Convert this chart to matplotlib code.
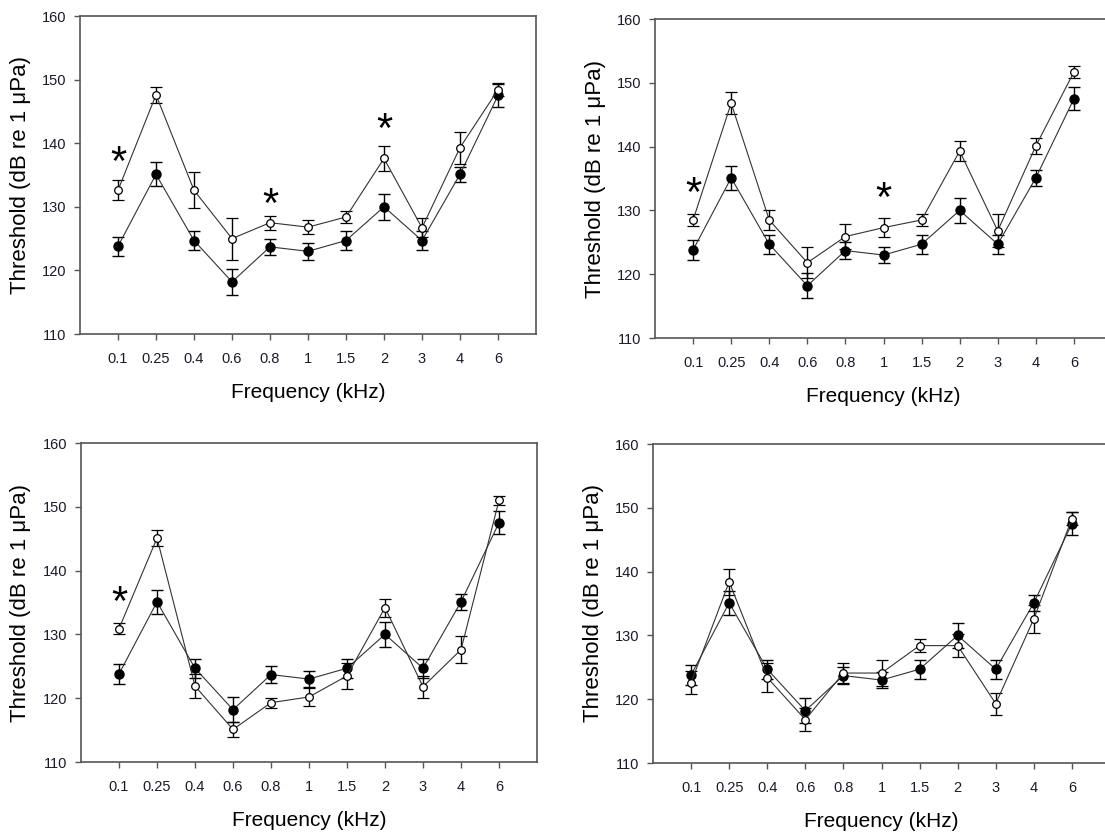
import matplotlib
matplotlib.use('Agg')
import matplotlib.pyplot as plt
import matplotlib.transforms as mtransforms
import numpy as np

plt.rcParams['font.family'] = ['Liberation Sans', 'DejaVu Sans']

# frequency categories (kHz)
freqs = ['0.1', '0.25', '0.4', '0.6', '0.8', '1', '1.5', '2', '3', '4', '6']

# control group (filled symbols), same in every panel
ctrl = [123.8, 135.1, 124.7, 118.2, 123.7, 123.0, 124.7, 130.0, 124.7, 135.1, 147.5]
ctrl_err = [1.5, 1.9, 1.5, 2.0, 1.3, 1.3, 1.5, 2.0, 1.5, 1.2, 1.8]

# treatment groups (open symbols), one per panel
open_a = [132.6, 147.6, 132.6, 125.0, 127.5, 126.8, 128.4, 137.6, 126.7, 139.3, 148.4]
open_a_err = [1.6, 1.3, 2.8, 3.3, 1.1, 1.1, 1.0, 2.0, 1.5, 2.5, 1.0]
open_b = [128.5, 146.8, 128.5, 121.8, 125.9, 127.3, 128.5, 139.3, 126.8, 140.1, 151.7]
open_b_err = [1.0, 1.7, 1.6, 2.4, 2.0, 1.5, 1.0, 1.5, 2.6, 1.3, 1.0]
open_c = [130.9, 145.1, 121.9, 115.1, 119.3, 120.2, 123.5, 134.2, 121.8, 127.6, 151.0]
open_c_err = [0.9, 1.3, 1.9, 1.2, 0.8, 1.4, 2.0, 1.4, 1.7, 2.1, 0.7]
open_d = [122.6, 138.4, 123.4, 116.8, 124.1, 124.1, 128.4, 128.4, 119.3, 132.6, 148.3]
open_d_err = [1.8, 2.0, 2.2, 1.8, 1.5, 2.0, 1.0, 1.8, 1.7, 2.2, 1.0]

# significance stars: (frequency index, y of star centre)
stars_a = [(0, 138.7), (4, 132.0), (7, 143.9)]
stars_b = [(0, 134.4), (5, 133.5)]
stars_c = [(0, 136.7)]
stars_d = []

panels = [
    (open_a, open_a_err, stars_a, [80, 16, 536, 334]),
    (open_b, open_b_err, stars_b, [655, 19, 1112, 338]),
    (open_c, open_c_err, stars_c, [81, 443, 537, 762]),
    (open_d, open_d_err, stars_d, [653, 444, 1110, 763]),
]

W, H = 1105, 832
fig = plt.figure(figsize=(W / 100, H / 100), dpi=100)
x = np.arange(1, len(freqs) + 1)
spine_col = '#555555'
star_fs = 30

for op, op_err, stars, (l, t, r, b) in panels:
    ax = fig.add_axes([l / W, 1 - b / H, (r - l) / W, (b - t) / H])
    ax.errorbar(x, ctrl, yerr=ctrl_err, color='#333333', lw=0.8, marker='o',
                ms=6.5, mfc='black', mec='black', ecolor='black', elinewidth=1,
                capsize=4, capthick=1, zorder=3)
    ax.errorbar(x, op, yerr=op_err, color='#333333', lw=0.8, marker='o',
                ms=5.5, mfc='white', mec='black', mew=0.9, ecolor='black',
                elinewidth=1, capsize=4, capthick=1, zorder=4)
    # asterisk glyph sits high above the baseline, so shift it down
    star_tr = mtransforms.offset_copy(ax.transData, fig=fig, x=0,
                                      y=-0.56 * star_fs, units='points')
    for i, y in stars:
        ax.text(x[i], y, '*', ha='center', va='baseline', fontsize=star_fs,
                transform=star_tr)
    ax.set_xlim(0, 12)
    ax.set_ylim(110, 160)
    ax.set_yticks([110, 120, 130, 140, 150, 160])
    ax.set_xticks(x)
    ax.set_xticklabels(freqs)
    ax.tick_params(direction='out', length=4, width=1, color=spine_col,
                   labelsize=10.5, pad=6, labelcolor='#1a1a2a')
    ax.tick_params(axis='x', pad=9)
    for s in ax.spines.values():
        s.set_color(spine_col)
        s.set_linewidth(1.2)
    ax.set_xlabel('Frequency (kHz)', fontsize=15, labelpad=12)
    ax.set_ylabel('Threshold (dB re 1 μPa)', fontsize=16, labelpad=8)

fig.savefig('out.png', dpi=100)
